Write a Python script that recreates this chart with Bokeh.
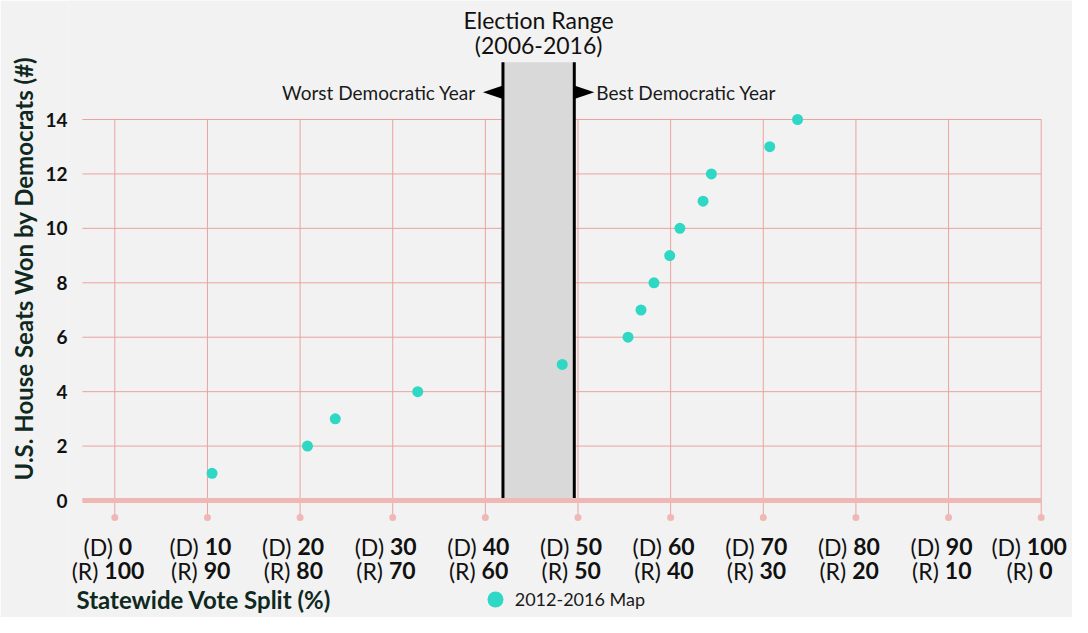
from bokeh.plotting import figure
from bokeh.models import ColumnDataSource, Range1d, FixedTicker, Label, Legend, LegendItem, Title
from bokeh.core.properties import value
from bokeh.embed import file_html
from bokeh.resources import INLINE

# ---------------- data ----------------
vote_share_dem = [10.5, 20.8, 23.8, 32.7, 48.3, 55.4, 56.8, 58.2, 59.9, 61.0, 63.5, 64.4, 70.7, 73.7]
seats_dem = [1, 2, 3, 4, 5, 6, 7, 8, 9, 10, 11, 12, 13, 14]
series_name = "2012-2016 Map"

range_worst = 41.9   # worst Democratic year (2006-2016)
range_best = 49.6    # best Democratic year (2006-2016)

x_ticks = [0, 10, 20, 30, 40, 50, 60, 70, 80, 90, 100]
dem_tick_labels = ["0", "10", "20", "30", "40", "50", "60", "70", "80", "90", "100"]
rep_tick_labels = ["100", "90", "80", "70", "60", "50", "40", "30", "20", "10", "0"]
y_ticks = [0, 2, 4, 6, 8, 10, 12, 14]

# ---------------- style ----------------
FONT = value("Lato")
BG = "#f2f2f2"
TEAL = "#2ed8c4"
GRID = "#eaa39d"
ZERO = "#f0b8b4"
DARK_GREEN = "#10291f"
BOX_TOP = 16.1
ARROW_Y = 15.0
ARROW_LEN = 2.16
ARROW_HALF = 0.25
GRID_X0 = -3.5
TICK_DOT_Y = -0.62

p = figure(width=1072, height=617,
           x_range=Range1d(-4.998, 103.38), y_range=Range1d(-4.299, 18.373),
           x_axis_location=None, y_axis_location="left",
           min_border_left=68, min_border_right=0, min_border_top=0, min_border_bottom=0,
           background_fill_color=BG, border_fill_color=BG, outline_line_color=None,
           toolbar_location=None, output_backend="svg")
p.xgrid.visible = False
p.ygrid.visible = False

yax = p.yaxis[0]
yax.ticker = FixedTicker(ticks=y_ticks)
yax.axis_line_color = None
yax.major_tick_line_color = None
yax.minor_tick_line_color = None
yax.major_tick_out = 0
yax.minor_tick_out = 0
yax.major_label_standoff = 1
yax.major_label_text_font = "Lato"
yax.major_label_text_font_style = "bold"
yax.major_label_text_font_size = "19px"
yax.major_label_text_color = "#111111"

p.add_layout(Title(text="U.S. House Seats Won by Democrats (#)", align="left", offset=137,
                   vertical_align="bottom", standoff=10, text_font="Lato",
                   text_font_style="bold", text_font_size="24px", text_color=DARK_GREEN), "left")

# horizontal gridlines
p.segment(x0=[GRID_X0] * (len(y_ticks) - 1), x1=[x_ticks[-1]] * (len(y_ticks) - 1),
          y0=y_ticks[1:], y1=y_ticks[1:], line_color=GRID, line_width=1)
# vertical gridlines with dots
p.segment(x0=x_ticks, x1=x_ticks, y0=[TICK_DOT_Y] * len(x_ticks), y1=[y_ticks[-1]] * len(x_ticks),
          line_color=GRID, line_width=1)
p.scatter(x=x_ticks, y=[TICK_DOT_Y] * len(x_ticks), size=7, fill_color=ZERO, line_color=None)

# election range box
p.quad(left=[range_worst], right=[range_best], bottom=[0], top=[BOX_TOP],
       fill_color="#d9d9d9", line_color=None)
p.segment(x0=[range_worst, range_best], x1=[range_worst, range_best], y0=[0, 0],
          y1=[BOX_TOP, BOX_TOP], line_color="black", line_width=3)
# zero line
p.segment(x0=[GRID_X0], x1=[x_ticks[-1]], y0=[0], y1=[0], line_color=ZERO, line_width=5)

# arrows + annotations
p.patches(xs=[[range_worst, range_worst - ARROW_LEN, range_worst],
              [range_best, range_best + ARROW_LEN, range_best]],
          ys=[[ARROW_Y + ARROW_HALF, ARROW_Y, ARROW_Y - ARROW_HALF],
              [ARROW_Y + ARROW_HALF, ARROW_Y, ARROW_Y - ARROW_HALF]],
          fill_color="black", line_color=None)
p.text(x=[range_worst], y=[ARROW_Y], text=["Worst Democratic Year"], x_offset=-27, y_offset=0,
       text_align="right", text_baseline="middle", text_font=FONT, text_font_size="19px",
       text_color="#1a1a1a")
p.text(x=[range_best], y=[ARROW_Y], text=["Best Democratic Year"], x_offset=22, y_offset=0,
       text_align="left", text_baseline="middle", text_font=FONT, text_font_size="19px",
       text_color="#1a1a1a")
mid = (range_worst + range_best) / 2
p.text(x=[mid, mid], y=[BOX_TOP, BOX_TOP], text=["Election Range", "(2006-2016)"],
       y_offset=[-42, -17], text_align="center", text_baseline="middle",
       text_font=FONT, text_font_size="23px", text_color="#111111")

# x tick labels: "(D) n" / "(R) m" with bold numbers
P_D, P_R, SP, DIG = 31.4, 29.3, 6, 13.4
rows = []
for i, t in enumerate(x_ticks):
    s = -13 if i == len(x_ticks) - 1 else -8
    for pref, pw, num, yoff in (("(D)", P_D, dem_tick_labels[i], 46), ("(R)", P_R, rep_tick_labels[i], 70)):
        w = pw + SP + DIG * len(num)
        left = s - w / 2
        rows.append((t, pref, left + pw, num, left + pw + SP, yoff))
lab = ColumnDataSource(dict(x=[r[0] for r in rows], y=[0] * len(rows),
                            pref=[r[1] for r in rows], pref_off=[r[2] for r in rows],
                            num=[r[3] for r in rows], num_off=[r[4] for r in rows],
                            yoff=[r[5] for r in rows]))
p.text(x="x", y="y", text="pref", x_offset="pref_off", y_offset="yoff", source=lab,
       text_align="right", text_baseline="middle", text_font=FONT, text_font_size="23px",
       text_color="#111111")
p.text(x="x", y="y", text="num", x_offset="num_off", y_offset="yoff", source=lab,
       text_align="left", text_baseline="middle", text_font=FONT, text_font_style="bold",
       text_font_size="23px", text_color="#111111")

# data points
dots = p.scatter(x=vote_share_dem, y=seats_dem, size=11, fill_color=TEAL, line_color=None)

# x-axis title
p.add_layout(Label(x=8, y=18, x_units="screen", y_units="screen",
                   text="Statewide Vote Split (%)", text_align="left",
                   text_baseline="middle", text_font="Lato", text_font_style="bold",
                   text_font_size="24px", text_color=DARK_GREEN))

legend = Legend(items=[LegendItem(label=series_name, renderers=[dots])],
                location=(406.7, -2), orientation="horizontal",
                glyph_width=40, glyph_height=40, label_standoff=0,
                padding=0, margin=0, border_line_color=None, background_fill_alpha=0,
                label_text_font="Lato", label_text_font_size="18px", label_text_color="#1a1a1a")
p.add_layout(legend)

open("out.html", "w").write(file_html(p, INLINE))
